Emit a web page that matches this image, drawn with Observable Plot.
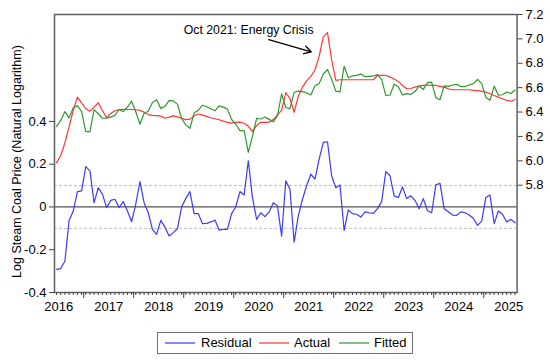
<!DOCTYPE html>
<html><head><meta charset="utf-8">
<script src="https://cdn.jsdelivr.net/npm/d3@7"></script>
<script src="https://cdn.jsdelivr.net/npm/@observablehq/plot@0.6"></script>
<style>
body{margin:0;background:#fff;font-family:"Liberation Sans",Arial,sans-serif;}
#wrap{position:relative;width:550px;height:363px;overflow:hidden;}
#legend{position:absolute;left:157px;top:332px;width:256px;height:22px;border:1px solid #707070;box-sizing:border-box;font-size:13px;color:#000;}
#legend .sw{position:absolute;top:9px;width:30px;height:1.5px;opacity:0.6;}
#legend .lb{position:absolute;top:0;line-height:20px;white-space:nowrap;}
</style></head><body>
<div id="wrap"><div id="chart"></div><div id="legend"></div></div>
<script>
// Monthly observations, June 2016 .. August 2025
const startYear = 2016, startMonthIndex = 5; // June
const residual = [-0.292,-0.288,-0.253,-0.063,-0.019,0.072,0.075,0.189,0.169,0.02,
0.09,0.06,-0.003,0.031,0.036,-0.003,0.025,-0.019,-0.069,0.013,
0.119,0.02,-0.027,-0.105,-0.128,-0.063,-0.094,-0.136,-0.12,-0.102,
0.001,0.039,0.072,-0.031,-0.031,-0.078,-0.077,-0.07,-0.061,-0.108,
-0.105,-0.105,-0.031,0.001,0.072,0.056,0.216,0.045,-0.058,-0.027,
-0.045,-0.023,0.02,0.005,-0.136,0.122,0.083,-0.164,-0.042,0.036,
0.099,0.153,0.13,0.224,0.302,0.305,0.146,0.09,0.103,-0.11,
-0.014,-0.031,-0.034,-0.047,-0.023,-0.027,-0.03,-0.008,0.025,0.166,
0.146,0.052,0.044,0.094,0.039,0.052,0.031,-0.008,0.039,-0.018,
-0.027,0.103,0.11,-0.008,-0.022,-0.038,-0.039,-0.023,-0.027,-0.038,
-0.053,-0.086,-0.066,0.044,0.056,-0.078,-0.019,-0.034,-0.07,-0.058,
-0.074];
const actual = [5.985,6.044,6.147,6.279,6.413,6.522,6.475,6.427,6.407,6.440,
6.476,6.413,6.353,6.389,6.411,6.421,6.423,6.421,6.421,6.419,
6.413,6.399,6.379,6.372,6.370,6.366,6.349,6.358,6.368,6.360,
6.349,6.338,6.342,6.368,6.384,6.375,6.364,6.353,6.345,6.337,
6.325,6.315,6.309,6.315,6.317,6.308,6.284,6.239,6.290,6.316,
6.315,6.317,6.338,6.376,6.413,6.559,6.511,6.398,6.530,6.604,
6.655,6.693,6.745,6.857,7.017,7.052,6.831,6.659,6.665,6.665,
6.665,6.665,6.665,6.665,6.665,6.665,6.665,6.700,6.700,6.700,
6.688,6.671,6.651,6.618,6.591,6.593,6.604,6.614,6.618,6.622,
6.618,6.618,6.611,6.604,6.591,6.583,6.583,6.583,6.583,6.583,
6.577,6.575,6.571,6.563,6.550,6.536,6.522,6.509,6.495,6.489,
6.503];
const fitted = [6.282,6.331,6.404,6.352,6.436,6.452,6.404,6.240,6.240,6.420,
6.386,6.349,6.350,6.358,6.373,6.421,6.403,6.440,6.489,6.402,
6.300,6.390,6.406,6.479,6.500,6.430,6.446,6.494,6.491,6.465,
6.347,6.295,6.267,6.392,6.414,6.456,6.443,6.427,6.410,6.450,
6.440,6.424,6.339,6.300,6.247,6.248,6.070,6.200,6.348,6.343,
6.360,6.340,6.320,6.371,6.549,6.437,6.428,6.562,6.572,6.568,
6.556,6.540,6.615,6.633,6.712,6.748,6.670,6.571,6.565,6.775,
6.681,6.697,6.700,6.713,6.690,6.693,6.696,6.707,6.668,6.535,
6.540,6.628,6.608,6.540,6.551,6.545,6.568,6.613,6.585,6.642,
6.645,6.518,6.501,6.615,6.611,6.622,6.627,6.609,6.610,6.622,
6.633,6.667,6.635,6.520,6.497,6.612,6.538,6.542,6.564,6.552,
6.581];
const yearLabels = [2016,2017,2018,2019,2020,2021,2022,2023,2024,2025];
const leftTicks = [-0.4,-0.2,0,0.2,0.4];
const rightTicks = [5.8,6.0,6.2,6.4,6.6,6.8,7.0,7.2];
const leftDomain = [-0.4, 0.9];
const rightDomain = [4.92, 7.2];
const residualBands = [-0.1, 0.1];
const seriesNames = ["Residual","Actual","Fitted"];
const seriesColors = ["#3a3aff","#ff3434","#2e9a2e"];
const yTitle = "Log Steam Coal Price (Natural Logarithm)";
const annotationText = "Oct 2021: Energy Crisis";
const annotationTextAt = {x: 2019.0, y: 7.076};        // right-axis units
const annotationArrow = {x1: 2020.70, y1: 6.993, x2: 2021.55, y2: 6.894};

const k = (leftDomain[1]-leftDomain[0])/(rightDomain[1]-rightDomain[0]);
const toL = v => leftDomain[0] + (v - rightDomain[0]) * k;
const fromL = v => rightDomain[0] + (v - leftDomain[0]) / k;
const tOf = i => startYear + (startMonthIndex + i + 0.5) / 12;

const rows = residual.map((r, i) => ({t: tOf(i), res: r, act: toL(actual[i]), fit: toL(fitted[i])}));
const xDomain = [startYear + startMonthIndex/12, startYear + (startMonthIndex + residual.length)/12];
const obsTicks = rows.map(d => d.t);
const yearTicks = d3.range(startYear + 1, yearLabels[yearLabels.length-1] + 1);
const labelTicks = yearLabels.map(y => y + 0.5);

const chart = Plot.plot({
  width: 550, height: 325,
  marginLeft: 54, marginRight: 33.4, marginTop: 14, marginBottom: 33,
  style: {fontFamily: "'Liberation Sans', Arial, sans-serif", fontSize: "13px", background: "white", color: "#000", overflow: "visible"},
  x: {domain: xDomain},
  y: {domain: leftDomain},
  marks: [
    Plot.ruleY(residualBands, {stroke: "#bdbdbd", strokeDasharray: "3,2", strokeWidth: 1}),
    Plot.ruleY([0], {stroke: "#555", strokeWidth: 1.3}),
    Plot.line(rows, {x: "t", y: "res", stroke: seriesColors[0], strokeWidth: 1.2}),
    Plot.line(rows, {x: "t", y: "act", stroke: seriesColors[1], strokeWidth: 1.2}),
    Plot.line(rows, {x: "t", y: "fit", stroke: seriesColors[2], strokeWidth: 1.2}),
    Plot.frame({stroke: "#606060", strokeWidth: 1.5}),
    Plot.axisY(leftTicks, {anchor: "left", tickSize: 5, tickPadding: 3, label: null, stroke: "#444", fontSize: 13,
      tickFormat: d => d === 0 ? "0" : d.toFixed(1)}),
    Plot.axisY(rightTicks.map(toL), {anchor: "right", tickSize: 5, tickPadding: 3.4, label: null, stroke: "#444", fontSize: 13,
      tickFormat: d => fromL(d).toFixed(1)}),
    Plot.axisX(obsTicks, {anchor: "bottom", tickSize: 3, label: null, stroke: "#444", tickFormat: () => ""}),
    Plot.axisX(yearTicks, {anchor: "bottom", tickSize: 6, label: null, stroke: "#444", tickFormat: () => ""}),
    Plot.axisX(labelTicks, {anchor: "bottom", tickSize: 0, tickPadding: 9.5, label: null, fontSize: 13,
      tickFormat: d => String(Math.floor(d))}),
    Plot.text([yTitle], {text: d => d, frameAnchor: "left", textAnchor: "middle", rotate: -90, dx: -37.5, dy: 8, fontSize: 12.5, fill: "#000"}),
    Plot.text([annotationText], {text: d => d, x: () => annotationTextAt.x, y: () => toL(annotationTextAt.y),
      textAnchor: "start", fontSize: 12.3, fill: "#000"}),
    Plot.arrow([annotationArrow], {x1: d => d.x1, y1: d => toL(d.y1), x2: d => d.x2, y2: d => toL(d.y2),
      stroke: "#000", strokeWidth: 1.3, headLength: 9})
  ]
});
document.getElementById("chart").appendChild(chart);

// legend
const legend = document.getElementById("legend");
const swLeft = [7, 101, 181], lbLeft = [43, 136, 216];
seriesNames.forEach((name, i) => {
  const sw = document.createElement("span");
  sw.className = "sw"; sw.style.left = swLeft[i] + "px"; sw.style.background = seriesColors[i];
  const lb = document.createElement("span");
  lb.className = "lb"; lb.style.left = lbLeft[i] + "px"; lb.textContent = name;
  legend.appendChild(sw); legend.appendChild(lb);
});
</script>
</body></html>
